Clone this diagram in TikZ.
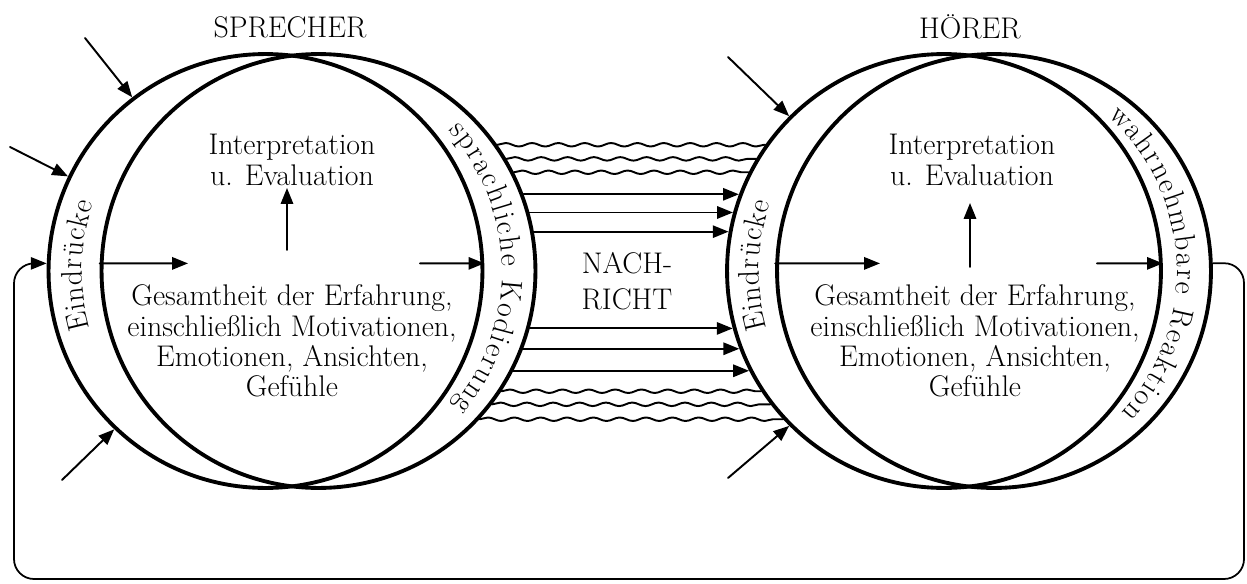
\documentclass[tikz,border=0pt]{standalone}
\usepackage{fontspec}
\usepackage{pgf,tikz}
\usetikzlibrary{arrows.meta}
\usetikzlibrary{decorations.pathmorphing}
\usetikzlibrary{decorations.text}
\newcommand\bodyfont{\fontsize{17}{17.2}\selectfont}

\begin{document}
\begin{tikzpicture}[line cap=round,line join=round,>={Triangle[length=9pt,width=7pt]},x=0.02cm,y=0.02cm,
  ring/.style={draw,circle,line width=2.2pt,minimum size=8.68cm,inner sep=0pt},
  feed/.style={->,line width=1.1pt},
  wave/.style={line width=1.1pt,decorate,decoration={snake,segment length=15pt,amplitude=1pt}},
  txt/.style={font=\bodyfont,align=center,inner sep=0pt}]
\useasboundingbox (0,0) rectangle (1247,583);
% Sprecher
\node [ring] (spL) at (265.5,312) {};
\node [ring] (spR) at (318.5,312) {};
\coordinate (spM) at (292,312);
\node [txt] (sprecher) at (290,556) {SPRECHER};
\node [txt] (interpL) at (292,423) {Interpretation\\u. Evaluation};
\node [txt] (gesL) at (292,242) {Gesamtheit der Erfahrung,\\einschließlich Motivationen,\\Emotionen, Ansichten,\\Gefühle};
\coordinate (inA) at (85,545);
\coordinate (inB) at (10,436);
\coordinate (inC) at (62,103);
\draw [feed] (inA)--([shift={(127.5:219)}]spL.center);
\draw [feed] (inB)--([shift={(154.4:219)}]spL.center);
\draw [feed] (inC)--([shift={(226.3:219)}]spL.center);
\coordinate (erfL) at (188,319.6);
\coordinate (upLa) at (287,333);
\coordinate (upLb) at (287,395);
\coordinate (kodL) at (420,319.6);
\draw [feed] ([shift={(178:219)}]spR.center)--(erfL);
\draw [feed] (upLa)--(upLb);
\draw [feed] (kodL)--([shift={(2:219)}]spL.center);
\path [decorate,decoration={text along path,text={|\bodyfont|Eindrücke},text align=fit to path}]
  (spM) ++(196:210) arc [start angle=196,end angle=161,radius=210];
\path [decorate,decoration={text along path,text={|\bodyfont|sprachliche Kodierung},text align=fit to path}]
  (spM) ++(42:210) arc [start angle=42,end angle=-40,radius=210];
% Hoerer
\node [ring] (hoL) at (944,312) {};
\node [ring] (hoR) at (994,312) {};
\coordinate (hoM) at (969,312);
\node [txt] (hoerer) at (970,556) {HÖRER};
\node [txt] (interpR) at (972,423) {Interpretation\\u. Evaluation};
\node [txt] (gesR) at (975,242) {Gesamtheit der Erfahrung,\\einschließlich Motivationen,\\Emotionen, Ansichten,\\Gefühle};
\coordinate (inD) at (728,526);
\coordinate (inE) at (728,105);
\draw [feed] (inD)--([shift={(135:219)}]hoL.center);
\draw [feed] (inE)--([shift={(225:219)}]hoL.center);
\coordinate (erfR) at (880,319.6);
\coordinate (upRa) at (970,316);
\coordinate (upRb) at (970,380);
\coordinate (reaR) at (1097,319.6);
\draw [feed] ([shift={(178:219)}]hoR.center)--(erfR);
\draw [feed] (upRa)--(upRb);
\draw [feed] (reaR)--([shift={(2:219)}]hoL.center);
\path [decorate,decoration={text along path,text={|\bodyfont|Eindrücke},text align=fit to path}]
  (hoM) ++(196:210) arc [start angle=196,end angle=161,radius=210];
\path [decorate,decoration={text along path,text={|\bodyfont|wahrnehmbare Reaktion},text align=fit to path}]
  (hoM) ++(48:208) arc [start angle=48,end angle=-43,radius=208];
% Nachricht
\node [txt] (msg) at (627,302) {NACH-\\[3pt]RICHT};
\foreach \a [evaluate=\a as \b using 180-\a] in {20.5,15.5,10.35,-15.2,-20.8,-27.1}
  \draw [feed] ([shift={(\a:219)}]spR.center)--([shift={(\b:219)}]hoL.center);
\foreach \a [evaluate=\a as \b using 180-\a] in {35.2,30.8,26.8,-33.3,-37.5,-42.6}
  \draw [wave] ([shift={(\a:219)}]spR.center)--([shift={(\b:219)}]hoL.center);
% Rueckkopplung
\coordinate (fbA) at (1244,320);
\coordinate (fbB) at (1244,4);
\coordinate (fbC) at (14,4);
\coordinate (fbD) at (14,319.6);
\draw [->,line width=1pt,rounded corners=0.4cm] ([shift={(2:219)}]hoR.center)--(fbA)--(fbB)--(fbC)--(fbD)--([shift={(178:219)}]spL.center);
\end{tikzpicture}
\end{document}
